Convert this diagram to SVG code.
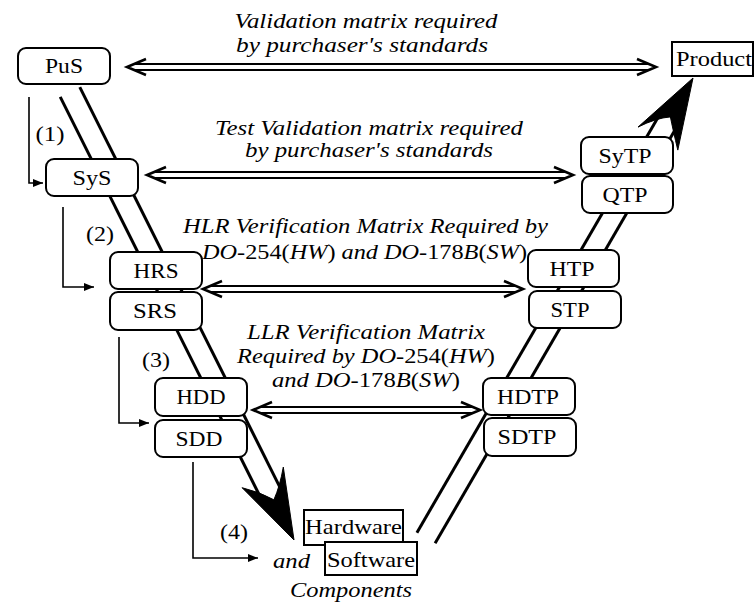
<svg xmlns="http://www.w3.org/2000/svg" width="756" height="603" viewBox="0 0 756 603">
<style>
.box{fill:#fff;stroke:#000;stroke-width:2}
.lbl{font-family:"Liberation Serif","Times New Roman",serif;font-size:22px;text-anchor:middle;fill:#000}
.it{font-family:"Liberation Serif","Times New Roman",serif;font-size:21px;font-style:italic;text-anchor:middle;fill:#000}
.up{font-style:normal}
.v{stroke:#000;stroke-width:3;fill:none}
.dbl{stroke:#000;stroke-width:2;fill:none}
.chev{stroke:#000;stroke-width:2.6;fill:none;stroke-linejoin:miter}
.thin{stroke:#000;stroke-width:1.6;fill:none}
.big{fill:#000;stroke:#000;stroke-width:1}
</style>
<defs>
<marker id="ah" viewBox="0 0 10 8" refX="10" refY="4" markerWidth="10" markerHeight="8" markerUnits="userSpaceOnUse" orient="auto">
<path d="M0,0 L10,4 L0,8 Z" fill="#000"/>
</marker>
</defs>
<rect width="756" height="603" fill="#fff"/>
<g id="connectors">
<!-- left V -->
<line class="v" x1="60.2" y1="96.9" x2="261" y2="498.4"/>
<line class="v" x1="79.8" y1="87.1" x2="280.6" y2="488.6"/>
<path class="big" d="M294,540 L283.3,467.1 Q280,486 273.9,499.8 Q260,492 242.1,487.7 Z"/>
<!-- right V -->
<line class="v" x1="416.9" y1="532.7" x2="657.8" y2="117.7"/>
<line class="v" x1="435.1" y1="543.3" x2="676" y2="128.3"/>
<path class="big" d="M693,78 L677.8,150.1 Q673,130 670.4,116.9 Q656,118 638,127.1 Z"/>
<!-- double arrows -->
<g id="arrow-top">
<line class="dbl" x1="133" y1="64" x2="650" y2="64"/>
<line class="dbl" x1="133" y1="70" x2="650" y2="70"/>
<polyline class="chev" points="146,59 127,67 146,75"/>
<polyline class="chev" points="637,59 656,67 637,75"/>
</g>
<g id="arrow-test">
<line class="dbl" x1="153" y1="172" x2="567" y2="172"/>
<line class="dbl" x1="153" y1="178" x2="567" y2="178"/>
<polyline class="chev" points="166,167 147,175 166,183"/>
<polyline class="chev" points="554,167 573,175 554,183"/>
</g>
<g id="arrow-hlr">
<line class="dbl" x1="209" y1="286" x2="517" y2="286"/>
<line class="dbl" x1="209" y1="292" x2="517" y2="292"/>
<polyline class="chev" points="222,281 203,289 222,297"/>
<polyline class="chev" points="504,281 523,289 504,297"/>
</g>
<g id="arrow-llr">
<line class="dbl" x1="259" y1="407" x2="474" y2="407"/>
<line class="dbl" x1="259" y1="413" x2="474" y2="413"/>
<polyline class="chev" points="272,402 253,410 272,418"/>
<polyline class="chev" points="461,402 480,410 461,418"/>
</g>
<!-- thin step arrows -->
<path class="thin" d="M29,97 V183 H43" marker-end="url(#ah)"/>
<path class="thin" d="M63,207 V287 H94" marker-end="url(#ah)"/>
<path class="thin" d="M119,337 V423 H149" marker-end="url(#ah)"/>
<path class="thin" d="M193,462 V558 H258" marker-end="url(#ah)"/>
</g>
<g id="step-labels">
<text class="lbl" x="50" y="141" textLength="29" lengthAdjust="spacingAndGlyphs">(1)</text>
<text class="lbl" x="100" y="241" textLength="28" lengthAdjust="spacingAndGlyphs">(2)</text>
<text class="lbl" x="156" y="367" textLength="28" lengthAdjust="spacingAndGlyphs">(3)</text>
<text class="lbl" x="234" y="539" textLength="28" lengthAdjust="spacingAndGlyphs">(4)</text>
</g>
<g id="matrix-labels">
<text class="it" x="366" y="28" textLength="263" lengthAdjust="spacingAndGlyphs">Validation matrix required</text>
<text class="it" x="362" y="52" textLength="252" lengthAdjust="spacingAndGlyphs">by purchaser's standards</text>
<text class="it" x="369" y="135" textLength="308" lengthAdjust="spacingAndGlyphs">Test Validation matrix required</text>
<text class="it" x="369" y="157" textLength="248" lengthAdjust="spacingAndGlyphs">by purchaser's standards</text>
<text class="it" x="365.5" y="233" textLength="365" lengthAdjust="spacingAndGlyphs">HLR Verification Matrix Required by</text>
<text class="it" x="364.5" y="259" textLength="325" lengthAdjust="spacingAndGlyphs">DO<tspan class="up">-254(</tspan>HW<tspan class="up">)</tspan> and DO<tspan class="up">-178</tspan>B<tspan class="up">(</tspan>SW<tspan class="up">)</tspan></text>
<text class="it" x="366" y="339" textLength="238" lengthAdjust="spacingAndGlyphs">LLR Verification Matrix</text>
<text class="it" x="366" y="363" textLength="258" lengthAdjust="spacingAndGlyphs">Required by DO<tspan class="up">-254(</tspan>HW<tspan class="up">)</tspan></text>
<text class="it" x="366" y="387" textLength="188" lengthAdjust="spacingAndGlyphs">and DO<tspan class="up">-178</tspan>B<tspan class="up">(</tspan>SW<tspan class="up">)</tspan></text>
</g>
<g id="PuS"><rect class="box" x="18" y="48" width="92" height="36" rx="8"/><text class="lbl" x="64" y="73" textLength="38" lengthAdjust="spacingAndGlyphs">PuS</text></g>
<g id="SyS"><rect class="box" x="46" y="159" width="92" height="37" rx="8"/><text class="lbl" x="92" y="185" textLength="39" lengthAdjust="spacingAndGlyphs">SyS</text></g>
<g id="HRS"><rect class="box" x="110" y="252" width="92" height="37" rx="8"/><text class="lbl" x="156" y="278" textLength="45" lengthAdjust="spacingAndGlyphs">HRS</text></g>
<g id="SRS"><rect class="box" x="110" y="292" width="92" height="38" rx="8"/><text class="lbl" x="155" y="318" textLength="44" lengthAdjust="spacingAndGlyphs">SRS</text></g>
<g id="HDD"><rect class="box" x="155" y="378" width="92" height="38" rx="8"/><text class="lbl" x="201" y="404" textLength="49" lengthAdjust="spacingAndGlyphs">HDD</text></g>
<g id="SDD"><rect class="box" x="155" y="420" width="92" height="37" rx="8"/><text class="lbl" x="199" y="446" textLength="47" lengthAdjust="spacingAndGlyphs">SDD</text></g>
<g id="Product"><rect class="box" x="672" y="42" width="81" height="34"/><text class="lbl" x="714" y="66" textLength="76" lengthAdjust="spacingAndGlyphs">Product</text></g>
<g id="SyTP"><rect class="box" x="581" y="137" width="92" height="37" rx="8"/><text class="lbl" x="625" y="163" textLength="53" lengthAdjust="spacingAndGlyphs">SyTP</text></g>
<g id="QTP"><rect class="box" x="582" y="176" width="91" height="37" rx="8"/><text class="lbl" x="625" y="202" textLength="45" lengthAdjust="spacingAndGlyphs">QTP</text></g>
<g id="HTP"><rect class="box" x="528" y="250" width="91" height="37" rx="8"/><text class="lbl" x="572" y="276" textLength="45" lengthAdjust="spacingAndGlyphs">HTP</text></g>
<g id="STP"><rect class="box" x="529" y="291" width="92" height="37" rx="8"/><text class="lbl" x="570" y="317" textLength="39" lengthAdjust="spacingAndGlyphs">STP</text></g>
<g id="HDTP"><rect class="box" x="483" y="378" width="92" height="37" rx="8"/><text class="lbl" x="528" y="404" textLength="62" lengthAdjust="spacingAndGlyphs">HDTP</text></g>
<g id="SDTP"><rect class="box" x="484" y="418" width="92" height="38" rx="8"/><text class="lbl" x="527" y="444" textLength="59" lengthAdjust="spacingAndGlyphs">SDTP</text></g>
<g id="Hardware"><rect class="box" x="304" y="510" width="99" height="35"/><text class="lbl" x="353.5" y="534" textLength="97" lengthAdjust="spacingAndGlyphs">Hardware</text></g>
<g id="Software"><rect class="box" x="325" y="542" width="92" height="33"/><text class="lbl" x="371" y="567" textLength="88" lengthAdjust="spacingAndGlyphs">Software</text></g>
<g id="components-labels">
<text class="it" x="291.5" y="568" textLength="37" lengthAdjust="spacingAndGlyphs">and</text>
<text class="it" x="351" y="597" textLength="122" lengthAdjust="spacingAndGlyphs">Components</text>
</g>
</svg>
